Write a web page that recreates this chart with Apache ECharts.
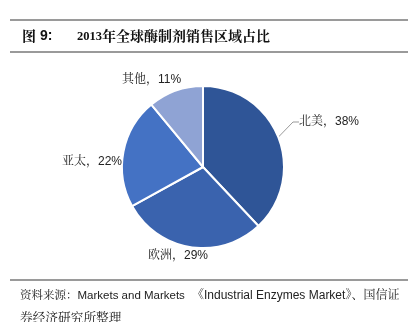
<!DOCTYPE html>
<html><head><meta charset="utf-8">
<script src="https://cdn.jsdelivr.net/npm/echarts@6/dist/echarts.min.js"></script>
<style>html,body{margin:0;padding:0;background:#fff}#c{width:415px;height:322px}</style>
</head><body><div id="c"></div>
<script>
const categories = ['北美', '欧洲', '亚太', '其他'];
const values = [38, 29, 22, 11];
const colors = ['#2F5597', '#3A63AE', '#4472C4', '#8FA3D4'];
// label anchor positions (left edge, vertical middle)
const labelPos = [[299, 122], [148, 256], [62, 162], [122, 80]];

const serif = '"Noto Serif CJK SC","Noto Sans CJK SC"';
const mixed = '"Liberation Sans","Noto Serif CJK SC","Noto Sans CJK SC"';

const chart = echarts.init(document.getElementById('c'));
const data = categories.map((n, i) => ({
  name: n, value: values[i], itemStyle: { color: colors[i] },
  labelLine: { show: i === 0 }
}));
chart.setOption({
  animation: false,
  graphic: [
    { type: 'rect', shape: { x: 10, y: 19, width: 398, height: 2 }, style: { fill: '#9a9a9a' } },
    { type: 'rect', shape: { x: 10, y: 51, width: 398, height: 2 }, style: { fill: '#9a9a9a' } },
    { type: 'rect', shape: { x: 10, y: 279, width: 398, height: 2 }, style: { fill: '#9a9a9a' } },
    { type: 'text', left: 22, top: 29, style: { text: '图', font: 'bold 14px ' + serif, fill: '#111' } },
    { type: 'text', left: 40, top: 29, style: { text: '9:', font: 'bold 14px "Liberation Sans"', fill: '#111' } },
    { type: 'text', left: 77, top: 30, style: { text: '2013', font: 'bold 12.5px "Liberation Serif"', fill: '#111' } },
    { type: 'text', left: 102, top: 29, style: { text: '年全球酶制剂销售区域占比', font: 'bold 14px ' + serif, fill: '#111' } },
    { type: 'text', left: 20, top: 290, style: { text: '资料来源：Markets and Markets', font: '11.5px ' + mixed, fill: '#222' } },
    { type: 'text', left: 192, top: 290, style: { text: '《Industrial Enzymes Market》、国信证', font: '12px ' + mixed, fill: '#222' } },
    { type: 'text', left: 20, top: 311, style: { text: '券经济研究所整理', font: '12.7px ' + serif, fill: '#222' } }
  ],
  series: [{
    type: 'pie',
    center: [203, 167],
    radius: 81,
    startAngle: 90,
    clockwise: true,
    data: data,
    itemStyle: { borderColor: '#fff', borderWidth: 2 },
    label: {
      show: true, position: 'outside', formatter: '{b}，{c}%',
      fontSize: 12, color: '#222', fontFamily: mixed
    },
    labelLine: { length: 8, length2: 6, lineStyle: { color: '#999', width: 1 } },
    labelLayout: function (p) {
      const pos = labelPos[p.dataIndex];
      return { x: pos[0], y: pos[1], align: 'left', verticalAlign: 'middle' };
    }
  }]
});
</script></body></html>
